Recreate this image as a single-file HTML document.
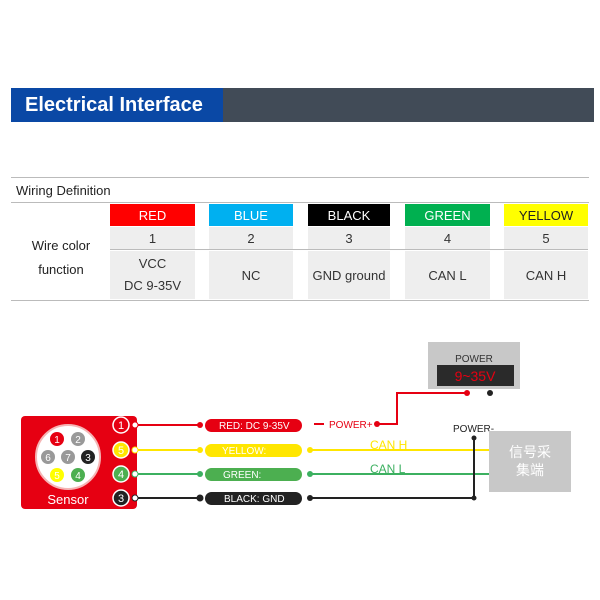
<!DOCTYPE html>
<html><head><meta charset="utf-8"><style>
body{margin:0;background:#fff;width:600px;height:600px;overflow:hidden;font-family:"Liberation Sans","Noto Sans CJK SC",sans-serif}
.a{position:absolute}
.c{position:absolute;display:flex;align-items:center;justify-content:center;font-size:13px;color:#333;background:#eee}
</style></head><body>
<div class="a" style="left:11px;top:88px;width:583px;height:34px;background:#414b57"></div>
<div class="a" style="left:11px;top:88px;width:212px;height:34px;background:#0a48a5;color:#fff;font-weight:bold;font-size:20px;line-height:34px;text-indent:14px">Electrical Interface</div>

<div class="a" style="left:11px;top:177px;width:578px;height:1px;background:#bbb"></div>
<div class="a" style="left:16px;top:183px;font-size:13px;color:#222">Wiring Definition</div>
<div class="a" style="left:11px;top:202px;width:578px;height:1px;background:#bbb"></div>
<div class="a" style="left:11px;top:300px;width:578px;height:1px;background:#bbb"></div>
<div class="a" style="left:28px;top:234px;font-size:13px;color:#222;text-align:center;width:66px;line-height:24px">Wire color<br>function</div>

<div class="c" style="left:110px;top:204px;width:85px;height:22px;background:#f00;color:#fff">RED</div>
<div class="c" style="left:209px;top:204px;width:84px;height:22px;background:#00b0f0;color:#fff">BLUE</div>
<div class="c" style="left:308px;top:204px;width:82px;height:22px;background:#000;color:#fff">BLACK</div>
<div class="c" style="left:405px;top:204px;width:85px;height:22px;background:#00b050;color:#fff">GREEN</div>
<div class="c" style="left:504px;top:204px;width:84px;height:22px;background:#ff0;color:#222">YELLOW</div>

<div class="c" style="left:110px;top:227px;width:85px;height:22px">1</div>
<div class="c" style="left:209px;top:227px;width:84px;height:22px">2</div>
<div class="c" style="left:308px;top:227px;width:82px;height:22px">3</div>
<div class="c" style="left:405px;top:227px;width:85px;height:22px">4</div>
<div class="c" style="left:504px;top:227px;width:84px;height:22px">5</div>
<div class="a" style="left:110px;top:249px;width:478px;height:1px;background:#bbb"></div>
<div class="c" style="left:110px;top:251px;width:85px;height:48px;line-height:22px;text-align:center">VCC<br>DC 9-35V</div>
<div class="c" style="left:209px;top:251px;width:84px;height:48px">NC</div>
<div class="c" style="left:308px;top:251px;width:82px;height:48px">GND ground</div>
<div class="c" style="left:405px;top:251px;width:85px;height:48px">CAN L</div>
<div class="c" style="left:504px;top:251px;width:84px;height:48px">CAN H</div>

<svg class="a" style="left:0;top:0" width="600" height="600" font-family="Liberation Sans, Noto Sans CJK SC, sans-serif">
<rect x="21" y="416" width="116" height="93" rx="4" fill="#e60012"/>
<circle cx="68" cy="457" r="32" fill="#fff" stroke="#f5b5b5" stroke-width="2"/>
<g font-size="10" fill="#fff" text-anchor="middle">
<circle cx="57" cy="439" r="7" fill="#e60012"/><text x="57" y="443">1</text>
<circle cx="78" cy="439" r="7" fill="#999"/><text x="78" y="443">2</text>
<circle cx="48" cy="457" r="7" fill="#999"/><text x="48" y="461">6</text>
<circle cx="68" cy="457" r="7" fill="#999"/><text x="68" y="461">7</text>
<circle cx="88" cy="457" r="7" fill="#222"/><text x="88" y="461">3</text>
<circle cx="57" cy="475" r="7" fill="#ff0"/><text x="57" y="479">5</text>
<circle cx="78" cy="475" r="7" fill="#4caf50"/><text x="78" y="479">4</text>
</g>
<text x="68" y="504" font-size="13" fill="#fff" text-anchor="middle">Sensor</text>
<g stroke="#fff" stroke-width="1.5" font-size="11" text-anchor="middle">
<circle cx="121" cy="425" r="8" fill="#e60012"/><circle cx="121" cy="450" r="8" fill="#ffe600"/>
<circle cx="121" cy="474" r="8" fill="#4caf50"/><circle cx="121" cy="498" r="8" fill="#222"/>
</g>
<g font-size="11" fill="#fff" text-anchor="middle"><text x="121" y="429">1</text><text x="121" y="454">5</text><text x="121" y="478">4</text><text x="121" y="502">3</text></g>
<g stroke-width="2">
<line x1="135" y1="425" x2="200" y2="425" stroke="#e60012"/><line x1="135" y1="450" x2="200" y2="450" stroke="#ffe600"/>
<line x1="135" y1="474" x2="200" y2="474" stroke="#3cb060"/><line x1="135" y1="498" x2="200" y2="498" stroke="#222"/>
<line x1="310" y1="450" x2="489" y2="450" stroke="#ffe600"/><line x1="310" y1="474" x2="489" y2="474" stroke="#3cb060"/>
<polyline points="310,498 474,498 474,438" fill="none" stroke="#222"/>
<polyline points="377,424 397,424 397,393 467,393" fill="none" stroke="#e60012"/>
<line x1="314" y1="424" x2="324" y2="424" stroke="#e60012"/>
</g>
<g fill="#fff"><circle cx="135" cy="425" r="3" stroke="#e60012"/><circle cx="135" cy="450" r="3" stroke="#ffe600"/><circle cx="135" cy="474" r="3" stroke="#3cb060"/><circle cx="135" cy="498" r="3" stroke="#222"/></g>
<circle cx="200" cy="425" r="3" fill="#e60012"/><circle cx="200" cy="450" r="3" fill="#ffe600"/><circle cx="200" cy="474" r="3" fill="#3cb060"/><circle cx="200" cy="498" r="3.5" fill="#222"/>
<circle cx="310" cy="450" r="3" fill="#ffe600"/><circle cx="310" cy="474" r="3" fill="#3cb060"/><circle cx="310" cy="498" r="3" fill="#222"/>
<circle cx="377" cy="424" r="3" fill="#e60012"/><circle cx="467" cy="393" r="3" fill="#e60012"/><circle cx="490" cy="393" r="3" fill="#222"/>
<circle cx="474" cy="438" r="2.5" fill="#222"/><circle cx="474" cy="498" r="2.5" fill="#222"/>
<rect x="205" y="419" width="97" height="13" rx="6.5" fill="#e60012"/>
<rect x="205" y="444" width="97" height="13" rx="6.5" fill="#ffe600"/>
<rect x="205" y="468" width="97" height="13" rx="6.5" fill="#4caf50"/>
<rect x="205" y="492" width="97" height="13" rx="6.5" fill="#222"/>
<g font-size="10" fill="#fff"><text x="219" y="429">RED:  DC 9-35V</text><text x="222" y="454">YELLOW:</text><text x="223" y="478">GREEN:</text><text x="224" y="502">BLACK:  GND</text></g>
<text x="329" y="428" font-size="10" fill="#e60012">POWER+</text>
<text x="370" y="449" font-size="12" fill="#ffe600">CAN H</text>
<text x="370" y="473" font-size="12" fill="#3cb060">CAN L</text>
<text x="453" y="432" font-size="10" fill="#222">POWER-</text>
<rect x="428" y="342" width="92" height="47" fill="#c8c8c8"/>
<text x="474" y="362" font-size="10" fill="#333" text-anchor="middle">POWER</text>
<rect x="437" y="365" width="77" height="21" fill="#2a2a2a"/>
<text x="475" y="381" font-size="14" fill="#e60012" text-anchor="middle">9~35V</text>
<rect x="489" y="431" width="82" height="61" fill="#c8c8c8"/>
<text x="530" y="457" font-size="14" fill="#fff" text-anchor="middle">信号采</text>
<text x="530" y="475" font-size="14" fill="#fff" text-anchor="middle">集端</text>
</svg>
</body></html>
